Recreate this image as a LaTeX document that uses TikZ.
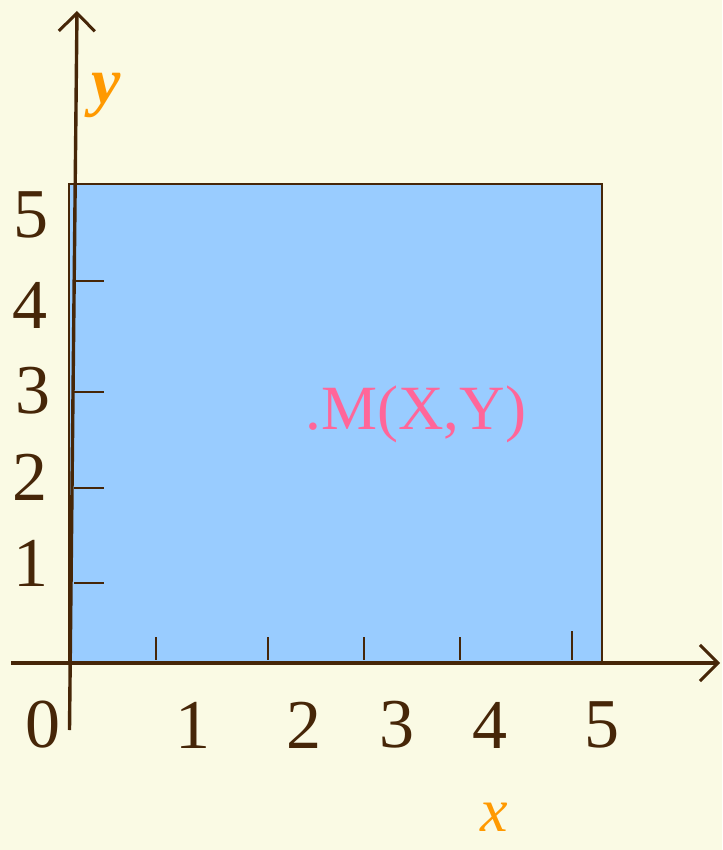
\documentclass[tikz,border=0pt]{standalone}
\usepackage{fontspec}
\setmainfont{Liberation Serif}
\usetikzlibrary{arrows.meta}
\definecolor{bg}{RGB}{250,250,228}
\definecolor{axisc}{RGB}{70,38,8}
\definecolor{fillc}{RGB}{153,204,255}
\definecolor{orangec}{RGB}{255,153,0}
\definecolor{pinkc}{RGB}{255,102,153}
\tikzset{
  axisline/.style={draw=axisc, line width=3.4pt},
  tickline/.style={draw=axisc, line width=2.6pt},
  numlab/.style={text=axisc, font=\fontsize{70}{74}\selectfont, inner sep=0pt},
  varlab/.style={text=orangec, inner sep=0pt},
  arrowtip/.style={-{Straight Barb[length=18pt,width=36pt,line width=3pt]}}
}
\begin{document}
\begin{tikzpicture}[x=1pt,y=-1pt]
\useasboundingbox[fill=bg] (0,0) rectangle (722,850);
% rectangle
\draw[fill=fillc, draw=axisc, line width=2.8pt] (69,184) rectangle (602,663);
% axes
\coordinate (xs) at (11,663);
\coordinate (xe) at (720,663);
\coordinate (ys) at (69.5,730);
\coordinate (ye) at (77,11);
\draw[axisline, arrowtip] (xs) -- (xe);
\draw[axisline, arrowtip] (ys) -- (ye);
% x ticks
\foreach \xx/\t in {156/637, 268/637, 364/637, 460/637, 572/631} {
  \draw[tickline] (\xx,\t) -- (\xx,660);
}
% y ticks
\foreach \yy in {281, 392, 488, 583} {
  \draw[tickline] (74,\yy) -- (104,\yy);
}
% x labels
\node[numlab] (l0) at (43,725) {0};
\node[numlab] (l1) at (193,725) {1};
\node[numlab] (l2) at (304,725) {2};
\node[numlab] (l3) at (397,725) {3};
\node[numlab] (l4) at (490,725) {4};
\node[numlab] (l5) at (602,725) {5};
% y labels
\node[numlab] (m5) at (31,215) {5};
\node[numlab] (m4) at (30,305) {4};
\node[numlab] (m3) at (33,391) {3};
\node[numlab] (m2) at (30,477) {2};
\node[numlab] (m1) at (31,563) {1};
% variable labels
\node[varlab, font=\fontsize{66}{70}\selectfont\bfseries\itshape] (ylab) at (106,95) {y};
\node[varlab, font=\fontsize{62}{66}\selectfont\itshape] (xlab) at (494,817) {x};
% point label
\node[text=pinkc, inner sep=0pt, font=\fontsize{63}{66}\selectfont] (M) at (416,414) {.M(X,Y)};
\end{tikzpicture}
\end{document}
